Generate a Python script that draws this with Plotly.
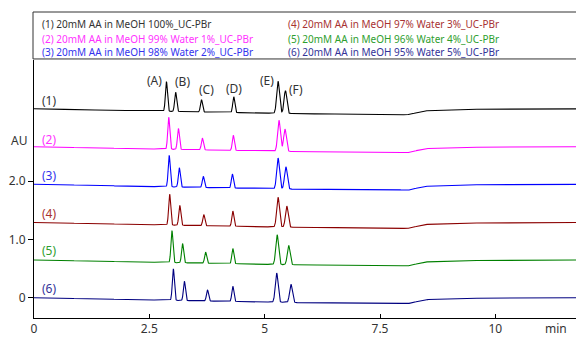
import numpy as np
import plotly.graph_objects as go

# ---- data ----
trace_labels = ["(1)", "(2)", "(3)", "(4)", "(5)", "(6)"]
legend_texts = [
    "(1) 20mM AA in MeOH 100%_UC-PBr",
    "(2) 20mM AA in MeOH 99% Water 1%_UC-PBr",
    "(3) 20mM AA in MeOH 98% Water 2%_UC-PBr",
    "(4) 20mM AA in MeOH 97% Water 3%_UC-PBr",
    "(5) 20mM AA in MeOH 96% Water 4%_UC-PBr",
    "(6) 20mM AA in MeOH 95% Water 5%_UC-PBr",
]
peak_names = ["(A)", "(B)", "(C)", "(D)", "(E)", "(F)"]
baseline_offsets = [3.24, 2.59, 1.945, 1.29, 0.647, 0.0]  # AU
# retention times (min) per trace for peaks A..F
rt = [
    [2.87, 3.07, 3.63, 4.33, 5.29, 5.45],
    [2.92, 3.13, 3.65, 4.32, 5.31, 5.44],
    [2.93, 3.15, 3.67, 4.30, 5.29, 5.46],
    [2.94, 3.16, 3.68, 4.31, 5.29, 5.48],
    [2.99, 3.22, 3.72, 4.31, 5.27, 5.52],
    [3.02, 3.26, 3.76, 4.31, 5.26, 5.57],
]
# peak heights (AU)
heights = [
    [0.51, 0.33, 0.21, 0.27, 0.55, 0.39],
    [0.55, 0.36, 0.20, 0.26, 0.53, 0.38],
    [0.54, 0.33, 0.19, 0.24, 0.53, 0.38],
    [0.53, 0.34, 0.19, 0.26, 0.51, 0.36],
    [0.55, 0.33, 0.19, 0.26, 0.51, 0.33],
    [0.54, 0.33, 0.19, 0.26, 0.50, 0.31],
]
peak_sigma = [0.022, 0.022, 0.022, 0.022, 0.03, 0.03]
# baseline drift knots (min, AU)
drift_t = [0, 3.0, 5.8, 7.95, 8.05, 8.15, 8.3, 8.45, 9.2, 11.9]
drift_v = [0, -0.045, -0.085, -0.095, -0.105, -0.095, -0.065, -0.035, -0.01, 0]

line_colors = ["#000000", "#ff00ff", "#0000ff", "#8b0000", "#008000", "#000080"]
text_colors = ["#333333", "#ff33ff", "#3333ee", "#a83232", "#2e9e2e", "#333399"]

x_ticks = [0, 2.5, 5, 7.5, 10]
x_ticktext = ["0", "2.5", "5", "7.5", "10"]
y_ticks = [0, 1, 2]
y_ticktext = ["0", "1.0", "2.0"]

# ---- build signals ----
t = np.arange(0, 11.9 + 1e-9, 0.005)
drift = np.interp(t, drift_t, drift_v)

fig = go.Figure()
for i in range(6):
    y = baseline_offsets[i] + drift
    for k in range(6):
        y = y + heights[i][k] * np.exp(-0.5 * ((t - rt[i][k]) / peak_sigma[k]) ** 2)
    fig.add_trace(go.Scatter(x=t, y=y, mode="lines",
                             line=dict(color=line_colors[i], width=1.1),
                             hoverinfo="skip", showlegend=False))

FONT = "Noto Sans"
ann = []
# trace labels
label_y = [3.39, 2.72, 2.09, 1.45, 0.81, 0.16]
for i in range(6):
    ann.append(dict(x=0.33, y=label_y[i], xref="x", yref="y", text=trace_labels[i],
                    showarrow=False, font=dict(family=FONT, size=12, color=text_colors[i])))
# peak labels
pk_x = [2.61, 3.21, 3.74, 4.33, 5.05, 5.68]
pk_y = [3.72, 3.70, 3.57, 3.58, 3.73, 3.57]
for k in range(6):
    ann.append(dict(x=pk_x[k], y=pk_y[k], xref="x", yref="y", text=peak_names[k],
                    showarrow=False, font=dict(family=FONT, size=12, color="#333333")))
# legend texts
rows_y = [1.1395, 1.0826, 1.0298]
for i in range(6):
    col_x = 0.0109 if i < 3 else 0.459
    ann.append(dict(x=col_x, y=rows_y[i % 3], xref="paper", yref="paper",
                    text=legend_texts[i], showarrow=False, xanchor="left", yanchor="middle",
                    font=dict(family=FONT, size=10, color=text_colors[i])))
# AU label
ann.append(dict(x=-0.01, y=2.7, xref="paper", yref="y", text="AU", showarrow=False,
                xanchor="right", font=dict(family=FONT, size=12, color="#333333")))
# min label
ann.append(dict(x=0.975, y=-0.039, xref="paper", yref="paper", text="min", showarrow=False,
                yanchor="middle", font=dict(family=FONT, size=12, color="#333333")))

# page body has an 8px margin: size figure so plot area lands at the reference pixels
fig.update_layout(
    width=576, height=330,
    margin=dict(l=24, r=1, t=52, b=20),
    paper_bgcolor="white", plot_bgcolor="white",
    annotations=ann,
    shapes=[dict(type="rect", xref="paper", yref="paper",
                 x0=-0.0018, x1=0.989, y0=1.004, y1=1.186,
                 line=dict(color="#333333", width=1))],
    xaxis=dict(range=[0, 11.9], tickvals=x_ticks, ticktext=x_ticktext,
               ticks="inside", ticklen=4, tickcolor="#000", showline=True,
               linecolor="#000", linewidth=1, showgrid=False, zeroline=False,
               tickfont=dict(family=FONT, size=12, color="#333333")),
    yaxis=dict(range=[-0.348, 4.077], tickvals=y_ticks, ticktext=y_ticktext,
               ticks="outside", ticklen=5, tickcolor="#000", showline=True,
               linecolor="#000", linewidth=1, showgrid=False, zeroline=False,
               tickfont=dict(family=FONT, size=12, color="#333333")),
)

fig.write_html("out.html")
